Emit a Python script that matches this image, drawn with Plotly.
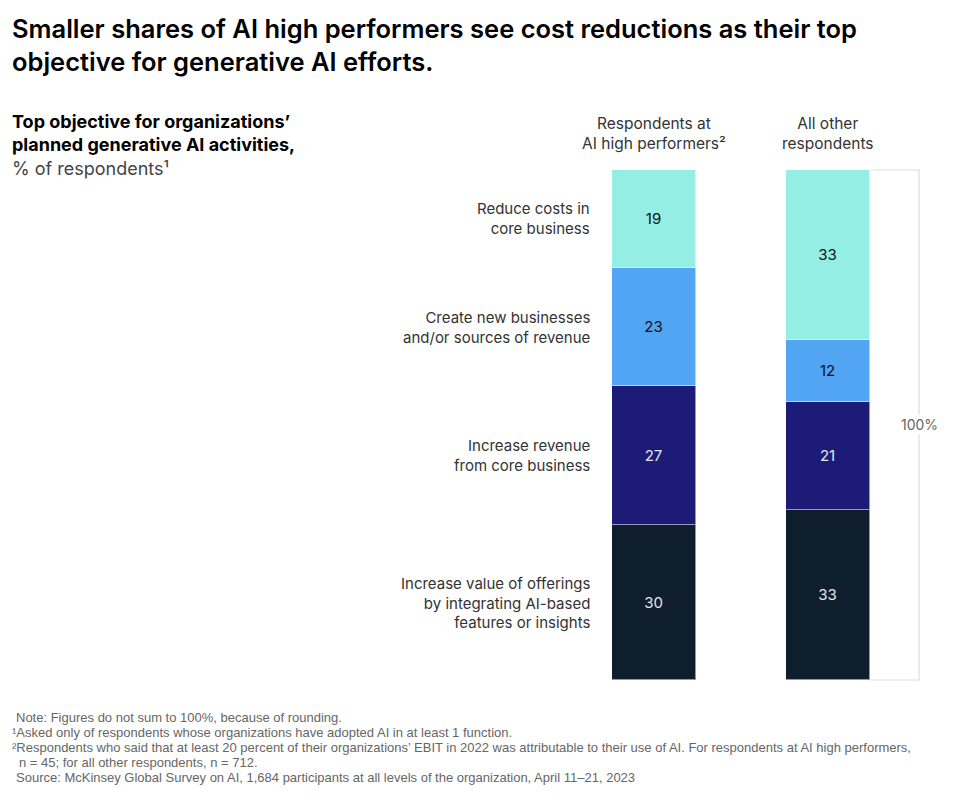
import plotly.graph_objects as go

# data
objectives = ['Increase value of offerings<br>by integrating AI-based<br>features or insights',
              'Increase revenue<br>from core business',
              'Create new businesses<br>and/or sources of revenue',
              'Reduce costs in<br>core business']
groups = ['Respondents at<br>AI high performers²', 'All other<br>respondents']
high_perf = [30, 27, 23, 19]
all_other = [33, 21, 12, 33]
colors = ['#0f1e2d', '#1c1c78', '#51a5f3', '#94eee4']
text_colors = ['#e6e6e6', '#e6e6e6', '#111111', '#111111']

W, H = 960, 797
FONT = 'Inter'
OFF = 8  # page margin of the browser


def px(v):
    return v - OFF


# pixel layout helpers
x0_px, x1_px = px(654), px(828)   # centres of the two bars
top_px, bot_px = px(170), px(680)
span = x1_px - x0_px
total = max(sum(high_perf), sum(all_other))
upp = (bot_px - top_px) / total   # px per unit

xr = [-x0_px / span, (W - x0_px) / span]
yr = [-(H - bot_px) / upp, total + top_px / upp]

fig = go.Figure()
for i, name in enumerate(objectives):
    fig.add_trace(go.Bar(
        x=[0, 1], y=[high_perf[i], all_other[i]],
        width=84 / span,
        marker=dict(color=colors[i], line=dict(color='rgba(255,255,255,0.55)', width=1)),
        text=[high_perf[i], all_other[i]], textposition='inside',
        insidetextanchor='middle',
        textfont=dict(family=FONT, size=15, color=text_colors[i]),
        hoverinfo='skip', showlegend=False, name=name.replace('<br>', ' ')))

ann = []
# left-hand category labels, aligned to the first bar's segments
cum = 0
for i, name in enumerate(objectives):
    mid = cum + high_perf[i] / 2
    cum += high_perf[i]
    ann.append(dict(x=(px(592) - x0_px) / span, y=mid, xref='x', yref='y', text=name,
                    xanchor='right', yanchor='middle', align='right', showarrow=False,
                    font=dict(family=FONT, size=15, color='#333333')))

# column headers
for gi, g in enumerate(groups):
    ann.append(dict(x=gi, y=1 - px(112) / H, xref='x', yref='paper', text=g,
                    xanchor='center', yanchor='top', align='center', showarrow=False,
                    font=dict(family=FONT, size=15.5, color='#333333')))

# 100% bracket on second bar
bx0 = 1 + 42 / span
bx1 = (px(919) - x0_px) / span
tot2 = sum(all_other)
fig.add_shape(type='path', xref='x', yref='y', layer='below',
              path=f'M {bx0},{tot2} L {bx1},{tot2} L {bx1},0 L {bx0},0',
              line=dict(color='#dddddd', width=1.2))
ann.append(dict(x=bx1, y=tot2 / 2 * 0.99 + 0.5, xref='x', yref='y', text='100%',
                xanchor='center', yanchor='middle', showarrow=False, bgcolor='white',
                font=dict(family=FONT, size=14, color='#666666')))

# title and subtitle
ann.append(dict(x=px(10) / W, y=1 - px(11) / H, xref='paper', yref='paper',
                text='Smaller shares of AI high performers see cost reductions as their top<br>'
                     'objective for generative AI efforts.',
                xanchor='left', yanchor='top', align='left', showarrow=False,
                font=dict(family=FONT, size=25.5, color='#000000', weight=600)))
ann.append(dict(x=px(10) / W, y=1 - px(109) / H, xref='paper', yref='paper',
                text='<b>Top objective for organizations’<br>planned generative AI activities,</b><br>'
                     '<span style="color:#444444">% of respondents¹</span>',
                xanchor='left', yanchor='top', align='left', showarrow=False,
                font=dict(family=FONT, size=18, color='#000000')))

# footnotes
notes = [(14, 'Note: Figures do not sum to 100%, because of rounding.'),
         (10, '¹Asked only of respondents whose organizations have adopted AI in at least 1 function.'),
         (10, '²Respondents who said that at least 20 percent of their organizations’ EBIT in 2022 was '
              'attributable to their use of AI. For respondents at AI high performers,'),
         (17, 'n = 45; for all other respondents, n = 712.'),
         (14, 'Source: McKinsey Global Survey on AI, 1,684 participants at all levels of the organization, '
              'April 11–21, 2023')]
for k, (xp, t) in enumerate(notes):
    ann.append(dict(x=px(xp) / W, y=1 - px(717 + 15 * k) / H, xref='paper', yref='paper', text=t,
                    xanchor='left', yanchor='middle', align='left', showarrow=False,
                    font=dict(family='Liberation Sans', size=13, color='#666666')))

fig.update_layout(
    width=W, height=H, barmode='stack', bargap=0,
    margin=dict(l=0, r=0, t=0, b=0),
    paper_bgcolor='white', plot_bgcolor='white',
    xaxis=dict(range=xr, visible=False, fixedrange=True),
    yaxis=dict(range=yr, visible=False, fixedrange=True),
    annotations=ann, uniformtext=dict(mode='show', minsize=10))

fig.write_html('out.html')
